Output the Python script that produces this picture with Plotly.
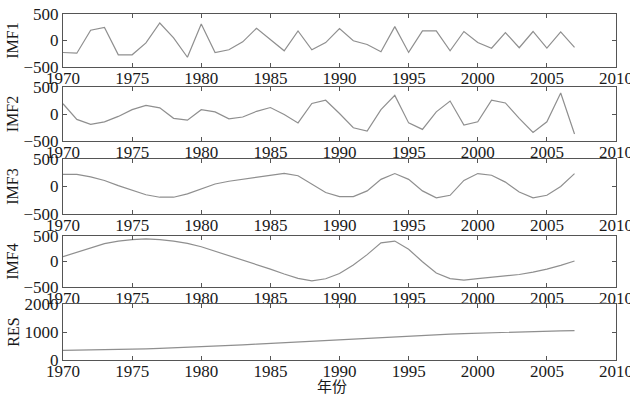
import plotly.graph_objects as go

years = list(range(1970, 2008))

imf1 = [-226, -240, 194, 245, -270, -270, -45, 330, 50, -316,
        310, -226, -175, -25, 232, 20, -195, 180, -175, -40,
        225, -6, -75, -212, 262, -225, 180, 180, -195, 170,
        -37, -145, 150, -137, 170, -145, 162, -130]

imf2 = [190, -100, -190, -145, -45, 80, 160, 115, -80, -115,
        80, 40, -90, -55, 50, 120, -10, -165, 195, 255,
        10, -255, -315, 80, 345, -165, -285, 40, 240, -205,
        -145, 255, 205, -80, -340, -145, 390, -370]

imf3 = [220, 220, 175, 110, 15, -70, -150, -195, -195, -135,
        -40, 45, 95, 130, 160, 195, 240, 195, 40, -110,
        -185, -185, -80, 130, 235, 130, -80, -205, -160, 110,
        235, 205, 80, -100, -205, -160, 0, 235]

imf4 = [95, 185, 270, 350, 400, 430, 445, 430, 400, 355,
        290, 205, 120, 30, -65, -150, -245, -330, -378, -338,
        -235, -70, 135, 365, 400, 240, -5, -225, -335, -365,
        -335, -305, -275, -255, -210, -150, -75, 10]

res = [345, 350, 356, 363, 372, 383, 398, 415, 432, 450,
       470, 493, 518, 543, 568, 595, 622, 650, 678, 705,
       730, 757, 783, 810, 835, 860, 882, 905, 925, 945,
       962, 978, 992, 1005, 1018, 1030, 1040, 1048]

series = [("IMF1", imf1), ("IMF2", imf2), ("IMF3", imf3), ("IMF4", imf4), ("RES", res)]
y_ranges = [[-500, 500]] * 4 + [[0, 2000]]
y_ticks = [[-500, 0, 500]] * 4 + [[0, 1000, 2000]]
x_ticks = [1970, 1975, 1980, 1985, 1990, 1995, 2000, 2005, 2010]
x_label = "年份"

top_px, bot_px = 14, 360
panels_px = [(14, 67), (87, 141), (159, 214), (236, 287), (304, 360)]
span = bot_px - top_px

fig = go.Figure()
serif = "Liberation Serif, Times New Roman, serif"
axis_color = "#555555"
txt = "#1a1a1a"

layout = dict(
    width=630, height=394,
    margin=dict(l=63, r=14, t=14, b=34, autoexpand=False),
    paper_bgcolor="white", plot_bgcolor="white",
    showlegend=False,
    font=dict(family=serif, size=17, color=txt),
)

for i, (name, vals) in enumerate(series):
    k = "" if i == 0 else str(i + 1)
    fig.add_trace(go.Scatter(
        x=years, y=vals, mode="lines",
        line=dict(color="#8f8f8f", width=1.2),
        xaxis="x" + k, yaxis="y" + k,
    ))
    t, b = panels_px[i]
    dom = [(bot_px - b) / span, (bot_px - t) / span]
    layout["xaxis" + k] = dict(
        domain=[0, 1], anchor="y" + k, range=[1970, 2010],
        tickvals=x_ticks, ticktext=[str(v) for v in x_ticks],
        ticks="inside", ticklen=4, tickcolor=axis_color,
        showline=True, linecolor=axis_color, linewidth=1, mirror="ticks",
        showgrid=False, zeroline=False, automargin=False,
        ticklabeloverflow="allow", ticklabelstandoff=-4,
        tickfont=dict(family=serif, size=17, color=txt),
    )
    layout["yaxis" + k] = dict(
        domain=dom, anchor="x" + k, range=y_ranges[i],
        tickvals=y_ticks[i],
        ticks="inside", ticklen=4, tickcolor=axis_color,
        showline=True, linecolor=axis_color, linewidth=1, mirror="ticks",
        showgrid=False, zeroline=False, automargin=False,
        ticklabeloverflow="allow",
        tickfont=dict(family=serif, size=17, color=txt),
        title=dict(text=name, font=dict(family=serif, size=16, color=txt), standoff=0),
    )

fig.update_layout(**layout)
fig.add_annotation(
    text=x_label, xref="paper", yref="paper",
    x=(332 - 63) / (616 - 63), y=(360 - 385) / span,
    showarrow=False, xanchor="center", yanchor="middle",
    font=dict(family="Noto Sans CJK SC", size=15, color=txt),
)
fig.write_html(
    "out.html",
    config={"displayModeBar": False},
    post_script="document.body.style.margin='0';document.body.style.overflow='hidden';",
)
